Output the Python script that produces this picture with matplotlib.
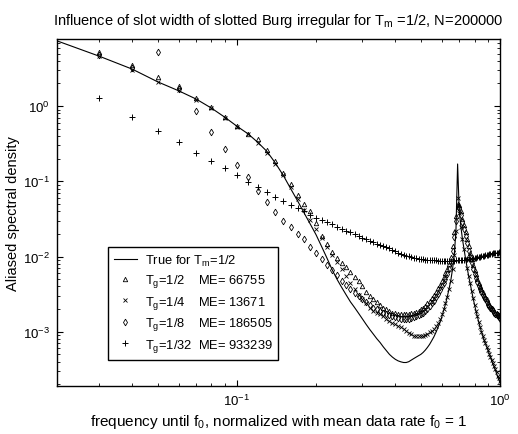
import matplotlib
matplotlib.use("Agg")
import matplotlib.pyplot as plt
import numpy as np

plt.rcParams['font.family'] = ['Liberation Sans', 'DejaVu Sans']
plt.rcParams['mathtext.fontset'] = 'custom'
plt.rcParams['mathtext.rm'] = 'Liberation Sans'
plt.rcParams['mathtext.it'] = 'Liberation Sans:italic'
plt.rcParams['mathtext.bf'] = 'Liberation Sans:bold'

# frequency grid (normalized with mean data rate)
freq = [0.03, 0.04, 0.05, 0.06, 0.07, 0.08, 0.09, 0.10,
        0.11, 0.12, 0.13, 0.14, 0.15, 0.16, 0.17, 0.18, 0.19, 0.20,
        0.21, 0.22, 0.23, 0.24, 0.25, 0.26, 0.27, 0.28, 0.29, 0.30,
        0.31, 0.32, 0.33, 0.34, 0.35, 0.36, 0.37, 0.38, 0.39, 0.40,
        0.41, 0.42, 0.43, 0.44, 0.45, 0.46, 0.47, 0.48, 0.49, 0.50,
        0.51, 0.52, 0.53, 0.54, 0.55, 0.56, 0.57, 0.58, 0.59, 0.60,
        0.61, 0.62, 0.63, 0.64, 0.65, 0.66, 0.67, 0.68, 0.69, 0.70,
        0.71, 0.72, 0.73, 0.74, 0.75, 0.76, 0.77, 0.78, 0.79, 0.80,
        0.81, 0.82, 0.83, 0.84, 0.85, 0.86, 0.87, 0.88, 0.89, 0.90,
        0.91, 0.92, 0.93, 0.94, 0.95, 0.96, 0.97, 0.98, 0.99, 1.00]
freq_true = [0.02] + freq

true_psd = [7.7, 4.6, 3.1, 2.1, 1.6, 1.24, 0.94, 0.71, 0.54,
            0.43, 0.33, 0.25, 0.175, 0.12, 0.080, 0.055, 0.038, 0.027, 0.0194,
            0.0135, 0.0095, 0.0067, 0.0050, 0.0039, 0.0031, 0.0025, 0.0021, 0.00176, 0.00148,
            0.00125, 0.00107, 0.00093, 0.00081, 0.00072, 0.00063, 0.00056, 0.00050, 0.00046, 0.00043,
            0.00041, 0.000398, 0.00039, 0.00039, 0.00040, 0.00042, 0.00044, 0.00046, 0.00048, 0.00050,
            0.00053, 0.00057, 0.00062, 0.00068, 0.00076, 0.00085, 0.00097, 0.00112, 0.0013, 0.00155,
            0.0019, 0.0023, 0.0029, 0.0037, 0.0048, 0.0068, 0.0105, 0.022, 0.17, 0.04,
            0.025, 0.017, 0.0125, 0.0093, 0.0071, 0.0055, 0.0044, 0.0035, 0.0028, 0.0023,
            0.0019, 0.0016, 0.00135, 0.00116, 0.0010, 0.00088, 0.00078, 0.00070, 0.00063, 0.00057,
            0.00051, 0.00046, 0.00041, 0.00037, 0.00034, 0.00031, 0.00028, 0.00025, 0.00023, 0.00021]

tg_half = [5.2, 3.5, 2.43, 1.84, 1.3, 0.97, 0.72, 0.55,
           0.43, 0.36, 0.26, 0.186, 0.13, 0.092, 0.066, 0.050, 0.040, 0.028,
           0.019, 0.0145, 0.0115, 0.0095, 0.0082, 0.0073, 0.0062, 0.0053, 0.0047, 0.0040,
           0.0034, 0.0030, 0.0027, 0.0025, 0.0023, 0.0021, 0.0020, 0.0019, 0.0018, 0.00175,
           0.0017, 0.0017, 0.0017, 0.0017, 0.0017, 0.00175, 0.0018, 0.00185, 0.0019, 0.0020,
           0.0021, 0.0022, 0.0024, 0.0026, 0.0028, 0.0031, 0.0034, 0.0038, 0.0042, 0.0047,
           0.0053, 0.0060, 0.0068, 0.0080, 0.0100, 0.014, 0.021, 0.035, 0.050, 0.048,
           0.040, 0.032, 0.026, 0.021, 0.017, 0.014, 0.011, 0.0092, 0.0077, 0.0066,
           0.0058, 0.0051, 0.0045, 0.0041, 0.0037, 0.0034, 0.0031, 0.0029, 0.0027, 0.0025,
           0.0023, 0.0022, 0.0021, 0.0020, 0.0019, 0.0018, 0.00175, 0.0017, 0.00165, 0.0016]

tg_quarter = [4.6, 3.0, 2.08, 1.65, 1.22, 0.93, 0.70, 0.53,
              0.42, 0.32, 0.24, 0.17, 0.12, 0.083, 0.058, 0.042, 0.031, 0.023,
              0.0175, 0.0135, 0.0105, 0.0085, 0.0068, 0.0055, 0.0045, 0.0037, 0.0031, 0.0027,
              0.0024, 0.0021, 0.0019, 0.0018, 0.0017, 0.0016, 0.0015, 0.0014, 0.0013, 0.00125,
              0.0012, 0.00115, 0.0011, 0.00102, 0.00096, 0.00092, 0.00089, 0.00088, 0.00088, 0.00088,
              0.00089, 0.00091, 0.00094, 0.00098, 0.00103, 0.0011, 0.0012, 0.0013, 0.0015, 0.0017,
              0.0020, 0.0024, 0.0029, 0.0037, 0.0048, 0.0068, 0.0105, 0.022, 0.060, 0.038,
              0.025, 0.017, 0.0125, 0.0093, 0.0071, 0.0055, 0.0044, 0.0035, 0.0028, 0.0023,
              0.0019, 0.0016, 0.00135, 0.00116, 0.0010, 0.00088, 0.00078, 0.00070, 0.00063, 0.00057,
              0.00051, 0.00046, 0.00042, 0.00038, 0.00035, 0.00032, 0.00029, 0.00026, 0.00024, 0.00022]

tg_eighth = [4.8, 3.2, 5.2, 1.7, 0.86, 0.45, 0.27, 0.165,
             0.114, 0.074, 0.053, 0.039, 0.030, 0.025, 0.020, 0.017, 0.0135, 0.011,
             0.0092, 0.0078, 0.0066, 0.0056, 0.0048, 0.0042, 0.0037, 0.0033, 0.0030, 0.0027,
             0.0025, 0.0023, 0.0021, 0.0020, 0.0019, 0.0018, 0.00172, 0.00166, 0.0016, 0.00156,
             0.00153, 0.0015, 0.0015, 0.0015, 0.0015, 0.00152, 0.00156, 0.0016, 0.00166, 0.00173,
             0.0018, 0.0019, 0.0020, 0.0022, 0.0024, 0.0026, 0.0029, 0.0032, 0.0036, 0.0040,
             0.0045, 0.0051, 0.0058, 0.0068, 0.0085, 0.012, 0.018, 0.030, 0.045, 0.044,
             0.036, 0.029, 0.023, 0.019, 0.015, 0.012, 0.0098, 0.0082, 0.0069, 0.0059,
             0.0052, 0.0046, 0.0041, 0.0037, 0.0034, 0.0031, 0.0029, 0.0027, 0.0025, 0.0023,
             0.0022, 0.0021, 0.0020, 0.0019, 0.0018, 0.0017, 0.00165, 0.0016, 0.00155, 0.0015]

tg_32nd = [1.28, 0.71, 0.466, 0.333, 0.238, 0.186, 0.150, 0.121,
           0.098, 0.083, 0.072, 0.062, 0.054, 0.048, 0.044, 0.040, 0.036, 0.033,
           0.031, 0.029, 0.027, 0.025, 0.0235, 0.022, 0.021, 0.0198, 0.0188, 0.0178,
           0.0170, 0.0162, 0.0155, 0.0149, 0.0143, 0.0138, 0.0133, 0.0128, 0.0123, 0.0118,
           0.0113, 0.0109, 0.0106, 0.0103, 0.0101, 0.0099, 0.0097, 0.0095, 0.0094, 0.0093,
           0.0092, 0.0091, 0.0091, 0.0090, 0.0090, 0.0089, 0.0089, 0.0088, 0.0088, 0.0088,
           0.0088, 0.0088, 0.0088, 0.0088, 0.0088, 0.0088, 0.0088, 0.0089, 0.0089, 0.0089,
           0.0090, 0.0090, 0.0091, 0.0091, 0.0092, 0.0093, 0.0093, 0.0094, 0.0095, 0.0096,
           0.0097, 0.0098, 0.0099, 0.0100, 0.0101, 0.0102, 0.0103, 0.0104, 0.0105, 0.0106,
           0.0107, 0.0108, 0.0109, 0.0110, 0.0111, 0.0112, 0.0113, 0.0113, 0.0114, 0.0115]

labels = ["True for T$_\\mathregular{m}$=1/2",
          "T$_\\mathregular{g}$=1/2    ME= 66755",
          "T$_\\mathregular{g}$=1/4    ME= 13671",
          "T$_\\mathregular{g}$=1/8    ME= 186505",
          "T$_\\mathregular{g}$=1/32  ME= 933239"]

fig = plt.figure(figsize=(5.18, 4.35), dpi=100)
ax = fig.add_axes([57/518, 48/435, 443/518, 347/435])

ax.plot(freq_true, true_psd, color='black', lw=0.8, label=labels[0])
ax.plot(freq, tg_half, ls='none', marker='^', ms=3.2, mfc='none', mec='black', mew=0.6, label=labels[1])
ax.plot(freq, tg_quarter, ls='none', marker='x', ms=2.6, mec='black', mew=0.6, label=labels[2])
ax.plot(freq, tg_eighth, ls='none', marker='d', ms=3.4, mfc='none', mec='black', mew=0.6, label=labels[3])
ax.plot(freq, tg_32nd, ls='none', marker='+', ms=5, mec='black', mew=0.7, label=labels[4])

ax.set_xscale('log')
ax.set_yscale('log')
ax.set_xlim(0.0207, 1.0)
ax.set_ylim(1.9e-4, 7.8)

ax.tick_params(which='both', direction='in', top=True, right=True, labelsize=9.5)
ax.tick_params(which='major', length=4, width=0.8, pad=5)
ax.tick_params(which='minor', length=2, width=0.6)
for s in ax.spines.values():
    s.set_linewidth(1.0)

ax.set_title("Influence of slot width of slotted Burg irregular for T$_\\mathregular{m}$ =1/2, N=200000",
             fontsize=10.5, pad=11)
ax.set_xlabel("frequency until f$_\\mathregular{0}$, normalized with mean data rate f$_\\mathregular{0}$ = 1",
              fontsize=11, labelpad=3)
ax.set_ylabel("Aliased spectral density", fontsize=10.5, labelpad=2)

leg = ax.legend(loc='upper left', bbox_to_anchor=(0.115, 0.401), borderaxespad=0,
                fancybox=False, edgecolor='black', framealpha=1, fontsize=9.3,
                numpoints=1, handlelength=1.8, handletextpad=0.6,
                labelspacing=0.35, borderpad=0.45)
leg.get_frame().set_linewidth(1.0)

fig.savefig("out.png", dpi=100)
